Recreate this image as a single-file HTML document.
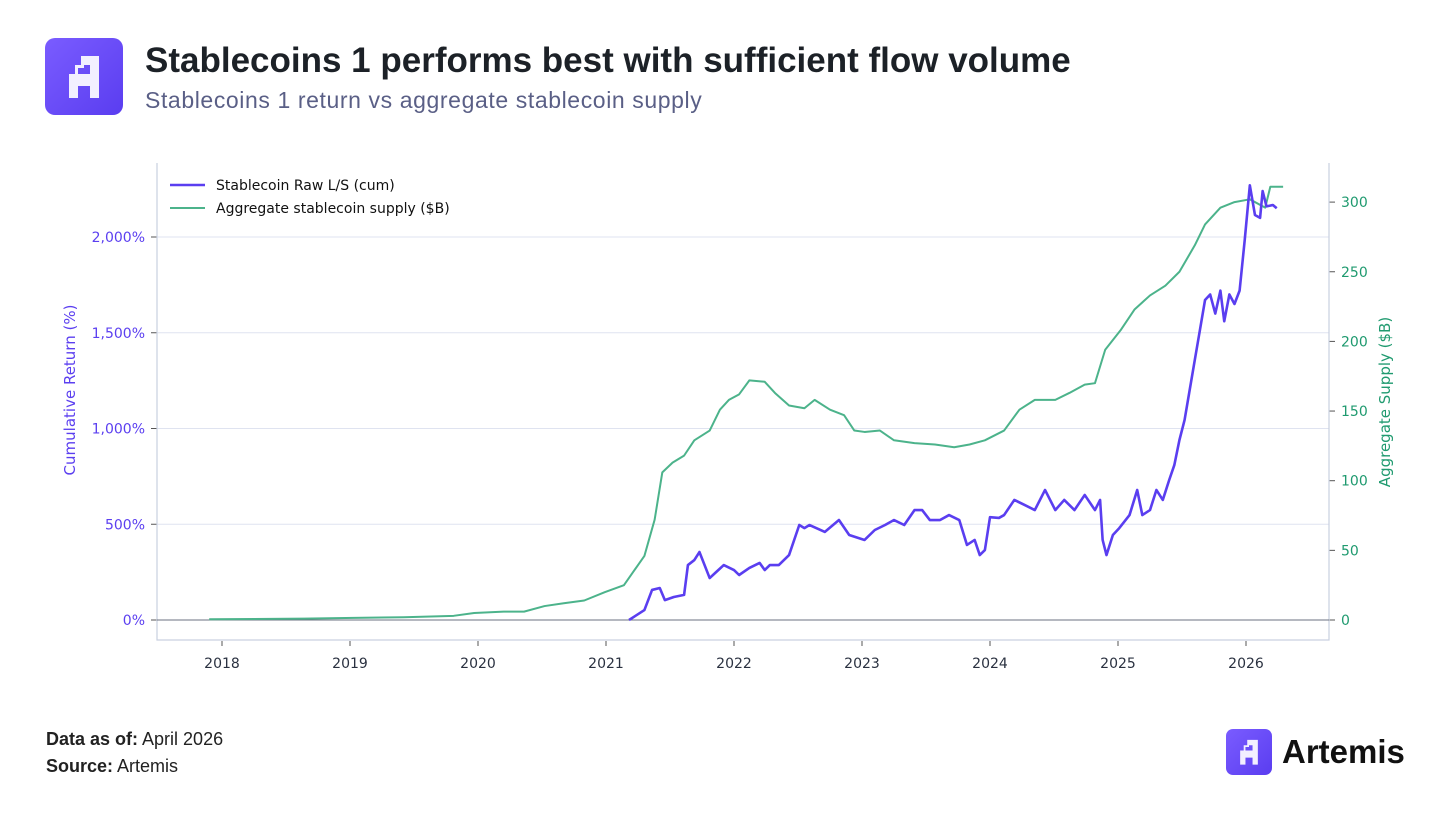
<!DOCTYPE html>
<html><head><meta charset="utf-8">
<style>
body{margin:0;width:1456px;height:819px;background:#fff;font-family:"Liberation Sans",sans-serif;overflow:hidden;position:relative}
.abs{position:absolute}
</style></head><body>
<div class="abs" style="left:45px;top:38px;width:78px;height:77px;border-radius:10px;background:linear-gradient(135deg,#7a5cff,#5a3df0)">
<svg width="78" height="77" viewBox="0 0 78 77"><path d="M36 18h18v42h-9v-12h-12v12h-9v-24h6v-9h6z M33 36h12v-9h-6v3h-6z" fill="#f2efff" fill-rule="evenodd"/></svg></div>
<div class="abs" style="left:145px;top:41px;font-size:35px;font-weight:bold;color:#1c2127">Stablecoins 1 performs best with sufficient flow volume</div>
<div class="abs" style="left:145px;top:87px;font-size:23px;letter-spacing:0.6px;color:#5a5f86">Stablecoins 1 return vs aggregate stablecoin supply</div>
<div class="abs" style="left:46px;top:729px;font-size:18px;color:#222"><b>Data as of:</b> April 2026</div>
<div class="abs" style="left:46px;top:756px;font-size:18px;color:#222"><b>Source:</b> Artemis</div>
<div class="abs" style="left:1226px;top:729px;display:flex;align-items:center">
<div style="width:46px;height:46px;border-radius:7px;background:linear-gradient(135deg,#7a5cff,#5a3df0)"><svg width="46" height="46" viewBox="0 0 78 77"><path d="M36 18h18v42h-9v-12h-12v12h-9v-24h6v-9h6z M33 36h12v-9h-6v3h-6z" fill="#f2efff" fill-rule="evenodd"/></svg></div>
<span style="font-size:33px;font-weight:bold;color:#111;margin-left:10px">Artemis</span></div>
<svg id="chart" class="abs" style="left:0;top:0" width="1456" height="819"></svg>
<script>
const supplyYears=[2017.9,2018.64,2019.03,2019.42,2019.81,2019.97,2020.2,2020.36,2020.52,2020.67,2020.83,2020.99,2021.14,2021.3,2021.38,2021.44,2021.52,2021.61,2021.69,2021.81,2021.89,2021.96,2022.04,2022.12,2022.24,2022.32,2022.43,2022.55,2022.63,2022.75,2022.86,2022.94,2023.02,2023.14,2023.25,2023.41,2023.57,2023.72,2023.84,2023.96,2024.11,2024.23,2024.35,2024.51,2024.62,2024.74,2024.82,2024.9,2025.02,2025.13,2025.25,2025.37,2025.48,2025.6,2025.68,2025.8,2025.91,2026.03,2026.15,2026.19,2026.29];
const supplyValues=[0.5,1,1.5,2,3,5,6,6,10,12,14,20,25,46,72,106,113,118,129,136,151,158,162,172,171,163,154,152,158,151,147,136,135,136,129,127,126,124,126,129,136,151,158,158,163,169,170,194,208,223,233,240,250,269,284,296,300,302,296,311,311];
const retYears=[2021.18,2021.3,2021.36,2021.42,2021.46,2021.53,2021.61,2021.64,2021.69,2021.73,2021.81,2021.86,2021.92,2022,2022.04,2022.12,2022.2,2022.24,2022.28,2022.35,2022.43,2022.51,2022.55,2022.59,2022.71,2022.82,2022.9,2023.02,2023.1,2023.18,2023.25,2023.33,2023.41,2023.47,2023.53,2023.61,2023.68,2023.76,2023.82,2023.88,2023.92,2023.96,2024,2024.07,2024.11,2024.19,2024.27,2024.35,2024.43,2024.51,2024.58,2024.66,2024.74,2024.82,2024.86,2024.88,2024.91,2024.96,2025.01,2025.09,2025.15,2025.19,2025.25,2025.3,2025.35,2025.4,2025.44,2025.48,2025.52,2025.56,2025.6,2025.64,2025.68,2025.72,2025.76,2025.8,2025.83,2025.87,2025.91,2025.95,2025.99,2026.03,2026.07,2026.11,2026.13,2026.16,2026.21,2026.24];
const retValues=[0,52,157,167,104,120,131,287,313,355,219,250,287,261,235,272,298,261,287,287,339,496,480,496,460,522,444,418,470,496,522,496,574,574,522,522,548,522,392,418,339,365,537,533,548,627,601,574,679,574,627,574,653,574,627,418,339,444,480,548,679,548,574,679,627,731,809,940,1044,1201,1358,1514,1671,1700,1600,1720,1560,1700,1650,1720,1984,2270,2115,2100,2240,2160,2167,2150,2160];
const leftTicks=[0,500,1000,1500,2000];
const leftLabels=["0%","500%","1,000%","1,500%","2,000%"];
const rightTicks=[0,50,100,150,200,250,300];
const xTicks=[2018,2019,2020,2021,2022,2023,2024,2025,2026];
const NS="http://www.w3.org/2000/svg";
const svg=document.getElementById('chart');
const X=y=>222+(y-2018)*128;
const YL=v=>620-v*0.1915;
const YR=v=>620-v*1.393;
function mk(t,a,txt){const e=document.createElementNS(NS,t);for(const k in a)e.setAttribute(k,a[k]);if(txt!==undefined)e.textContent=txt;svg.appendChild(e);return e;}
leftTicks.forEach((v,i)=>{if(v>0){const g=mk('line',{x1:157,x2:1329,y1:YL(v),y2:YL(v),stroke:'#dfe3f0','stroke-width':1});

}
const tk=mk('line',{x1:151,x2:157,y1:YL(v),y2:YL(v),stroke:'#555','stroke-width':1});


const t=mk('text',{x:145,y:YL(v)+5,'text-anchor':'end','font-size':14,fill:'#5b3ff0','font-family':'DejaVu Sans,sans-serif'},leftLabels[i]);

});
rightTicks.forEach(v=>{const tk=mk('line',{x1:1329,x2:1335,y1:YR(v),y2:YR(v),stroke:'#555','stroke-width':1});


const t=mk('text',{x:1341,y:YR(v)+5,'font-size':14,fill:'#1f9a6f','font-family':'DejaVu Sans,sans-serif'},String(v));

});
xTicks.forEach(v=>{const tk=mk('line',{x1:X(v),x2:X(v),y1:641,y2:646,stroke:'#555','stroke-width':1});


const t=mk('text',{x:X(v),y:668,'text-anchor':'middle','font-size':14,fill:'#2a3140','font-family':'DejaVu Sans,sans-serif'},String(v));

});
const fr=mk('path',{d:'M157 163V640H1329V163',fill:'none',stroke:'#c9d0e0','stroke-width':1.2});


const zl=mk('line',{x1:157,x2:1329,y1:620,y2:620,stroke:'#6b7280','stroke-width':1});


const gp=mk('polyline',{points:supplyYears.map((y,i)=>X(y)+','+YR(supplyValues[i])).join(' '),fill:'none',stroke:'#4cb38b','stroke-width':2,'stroke-linejoin':'round'});


const pp=mk('polyline',{points:retYears.map((y,i)=>X(y)+','+YL(retValues[i])).join(' '),fill:'none',stroke:'#5a3ef0','stroke-width':2.6,'stroke-linejoin':'round'});


const ly=mk('text',{transform:'translate(75,390) rotate(-90)','text-anchor':'middle','font-size':15,fill:'#5b3ff0','font-family':'DejaVu Sans,sans-serif'},'Cumulative Return (%)');


const ry=mk('text',{transform:'translate(1390,402) rotate(-90)','text-anchor':'middle','font-size':15,fill:'#1f9a6f','font-family':'DejaVu Sans,sans-serif'},'Aggregate Supply ($B)');


const l1=mk('line',{x1:170,x2:205,y1:185,y2:185,stroke:'#5a3ef0','stroke-width':2.6});


const t1=mk('text',{x:216,y:190,'font-size':14,fill:'#111','font-family':'DejaVu Sans,sans-serif'},'Stablecoin Raw L/S (cum)');


const l2=mk('line',{x1:170,x2:205,y1:208,y2:208,stroke:'#4cb38b','stroke-width':2});


const t2=mk('text',{x:216,y:213,'font-size':14,fill:'#111','font-family':'DejaVu Sans,sans-serif'},'Aggregate stablecoin supply ($B)');


</script>
</body></html>
